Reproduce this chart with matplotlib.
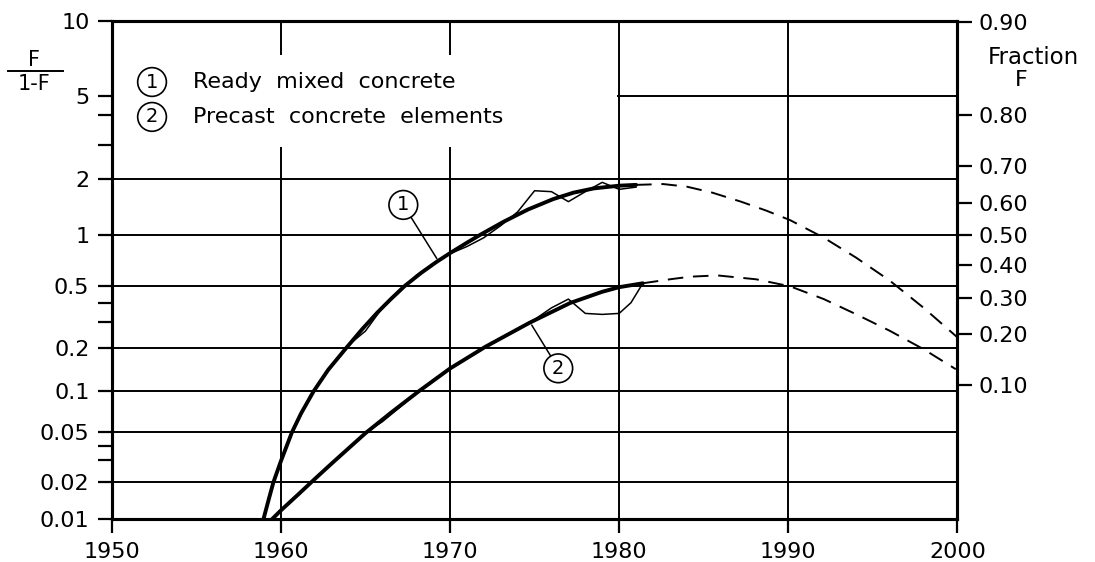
import numpy as np
import matplotlib
matplotlib.use('Agg')
import matplotlib.pyplot as plt
from matplotlib.patches import Rectangle
from matplotlib.lines import Line2D

# fitted curve, ready mixed concrete (solid part)
rm_fit_years = [1958.97, 1959.3, 1959.56, 1960.0, 1960.65, 1961.2, 1961.93, 1962.8,
                1963.85, 1964.8, 1965.7, 1966.5, 1967.3, 1968.3, 1969.2, 1970.0,
                1971.0, 1971.8, 1973.15, 1974.6, 1976.1, 1977.3, 1978.5, 1980.0, 1981.0]
rm_fit_vals = [0.01, 0.0148, 0.02, 0.0293, 0.05, 0.0692, 0.1, 0.1416,
               0.2, 0.267, 0.344, 0.420, 0.5, 0.601, 0.697, 0.786,
               0.906, 1.01, 1.183, 1.378, 1.569, 1.699, 1.791, 1.852, 1.871]
# forecast, ready mixed concrete (dashed)
rm_proj_years = [1981.0, 1982.6, 1984.0, 1985.5, 1987.2, 1988.7, 1990.1, 1992.1,
                 1994.0, 1996.0, 1998.0, 2000.0]
rm_proj_vals = [1.871, 1.89, 1.83, 1.70, 1.52, 1.36, 1.21, 0.97,
                0.74, 0.54, 0.37, 0.236]
# observed, ready mixed concrete
rm_obs_years = [1964, 1965, 1966, 1967, 1968, 1969, 1970, 1971, 1972, 1973,
                1974, 1975, 1976, 1977, 1978, 1979, 1980, 1981]
rm_obs_vals = [0.21, 0.26, 0.37, 0.46, 0.58, 0.68, 0.78, 0.86, 0.97, 1.13,
               1.34, 1.74, 1.72, 1.52, 1.72, 1.93, 1.77, 1.82]

# fitted curve, precast concrete elements
pc_fit_years = [1959.47, 1960.0, 1961.0, 1962.0, 1963.0, 1964.0, 1965.0, 1966.5,
                1968.1, 1970.0, 1972.1, 1974.7, 1977.1, 1979.0, 1980.0, 1981.4]
pc_fit_vals = [0.01, 0.0118, 0.0158, 0.0212, 0.0281, 0.0379, 0.0494, 0.0697,
               0.0992, 0.1446, 0.2049, 0.295, 0.398, 0.464, 0.494, 0.521]
pc_proj_years = [1981.4, 1983.0, 1984.2, 1985.8, 1988.1, 1990.1, 1992.1, 1994.0,
                 1996.0, 1998.0, 1999.9]
pc_proj_vals = [0.521, 0.55, 0.57, 0.58, 0.55, 0.50, 0.42, 0.336,
                0.261, 0.197, 0.143]
pc_obs_years = [1965, 1966, 1967, 1968, 1969, 1970, 1971, 1972, 1973, 1974,
                1975, 1976, 1977, 1978, 1979, 1980, 1980.7, 1981.4]
pc_obs_vals = [0.05, 0.06, 0.076, 0.097, 0.12, 0.145, 0.17, 0.20, 0.235, 0.27,
               0.31, 0.37, 0.42, 0.34, 0.335, 0.34, 0.40, 0.521]

left_ticks = [0.01, 0.02, 0.05, 0.1, 0.2, 0.5, 1, 2, 5, 10]
left_labels = ['0.01', '0.02', '0.05', '0.1', '0.2', '0.5', '1', '2', '5', '10']
left_minor = [0.03, 0.04, 0.3, 0.4, 3, 4]
fraction_ticks = [0.1, 0.2, 0.3, 0.4, 0.5, 0.6, 0.7, 0.8, 0.9]
x_ticks = [1950, 1960, 1970, 1980, 1990, 2000]

# the printed vertical scale is not a clean log scale, so map it piecewise
scale_vals = [1e-4, 0.01, 0.02, 0.03, 0.04, 0.05, 0.1, 0.2, 0.3, 0.4, 0.5,
              1, 2, 3, 4, 5, 9, 10, 1e3]
scale_pos = [-300, 0, 37, 59.3, 73.6, 86.8, 127.8, 171, 197.6, 216.6, 233,
             283.8, 339.8, 374.3, 404.3, 423.6, 497.3, 498.6, 800]
LK = np.log10(scale_vals)
POS = np.array(scale_pos)


def fwd(v):
    lv = np.log10(np.clip(np.asarray(v, dtype=float), 1e-12, None))
    return np.interp(lv, LK, POS)


def inv(p):
    return 10 ** np.interp(np.asarray(p, dtype=float), POS, LK)


plt.rcParams['font.family'] = ['DejaVu Sans']

fig = plt.figure(figsize=(10.95, 5.62), dpi=100)
ax = fig.add_axes([0.102, 0.076, 0.7724, 0.8872])
ax.set_yscale('function', functions=(fwd, inv))
ax.set_xlim(1950, 2000)
ax.set_ylim(0.01, 10)
ax.set_axisbelow(True)

ax.set_xticks(x_ticks, labels=[str(x) for x in x_ticks])
ax.set_yticks(left_ticks, labels=left_labels)
ax.set_yticks(left_minor, minor=True)
ax.tick_params(axis='both', which='both', direction='out', length=10, width=1.6,
               labelsize=16, pad=6, colors='black')
ax.grid(True, which='major', color='black', linewidth=1.4)

for s in ax.spines.values():
    s.set_linewidth(2.2)

# white panel behind the legend text
ax.add_patch(Rectangle((1950.05, 2.93), 29.85, 6.9 - 2.93, facecolor='white',
                       edgecolor='none', zorder=1))

# fitted and projected curves
ax.plot(rm_fit_years, rm_fit_vals, color='black', lw=2.8, solid_capstyle='round', zorder=3)
ax.plot(pc_fit_years, pc_fit_vals, color='black', lw=2.8, solid_capstyle='round', zorder=3)
ax.plot(rm_proj_years, rm_proj_vals, color='black', lw=1.4, dashes=(8, 5), zorder=3)
ax.plot(pc_proj_years, pc_proj_vals, color='black', lw=1.4, dashes=(8, 5), zorder=3)
# observed data
ax.plot(rm_obs_years, rm_obs_vals, color='black', lw=1.1, zorder=3)
ax.plot(pc_obs_years, pc_obs_vals, color='black', lw=1.1, zorder=3)

circle = dict(boxstyle='circle,pad=0.25', facecolor='white', edgecolor='black', lw=1.2)
ax.annotate('1', xy=(1969.22, 0.73), xytext=(1967.24, 1.46), ha='center', va='center',
            fontsize=14, bbox=circle, zorder=4,
            arrowprops=dict(arrowstyle='-', lw=1.1, color='black', shrinkA=0, shrinkB=0))
ax.annotate('2', xy=(1974.83, 0.285), xytext=(1976.4, 0.145), ha='center', va='center',
            fontsize=14, bbox=circle, zorder=4,
            arrowprops=dict(arrowstyle='-', lw=1.1, color='black', shrinkA=0, shrinkB=0))

# legend
ax.text(0.0477, 0.877, '1', transform=ax.transAxes, ha='center', va='center',
        fontsize=14, bbox=circle, zorder=4)
ax.text(0.0477, 0.807, '2', transform=ax.transAxes, ha='center', va='center',
        fontsize=14, bbox=circle, zorder=4)
ax.text(0.096, 0.877, 'Ready  mixed  concrete', transform=ax.transAxes,
        ha='left', va='center', fontsize=16, zorder=4)
ax.text(0.096, 0.807, 'Precast  concrete  elements', transform=ax.transAxes,
        ha='left', va='center', fontsize=16, zorder=4)

# right axis: fraction F
ax2 = ax.twinx()
ax2.set_yscale('function', functions=(fwd, inv))
ax2.set_ylim(0.01, 10)
ratio = [f / (1 - f) for f in fraction_ticks]
ax2.set_yticks(ratio, labels=['%.2f' % f for f in fraction_ticks])
ax2.set_yticks([], minor=True)
ax2.tick_params(axis='y', direction='out', length=11, width=1.6, labelsize=16, pad=4)
for s in ax2.spines.values():
    s.set_linewidth(2.2)

# axis titles
fig.text(0.031, 0.893, 'F', ha='center', va='center', fontsize=15)
fig.add_artist(Line2D([0.0073, 0.0575], [0.874, 0.874], color='black', lw=1.4))
fig.text(0.031, 0.851, '1-F', ha='center', va='center', fontsize=15)
fig.text(0.944, 0.897, 'Fraction', ha='center', va='center', fontsize=16.5)
fig.text(0.933, 0.857, 'F', ha='center', va='center', fontsize=16)

fig.savefig('out.png', dpi=100)
